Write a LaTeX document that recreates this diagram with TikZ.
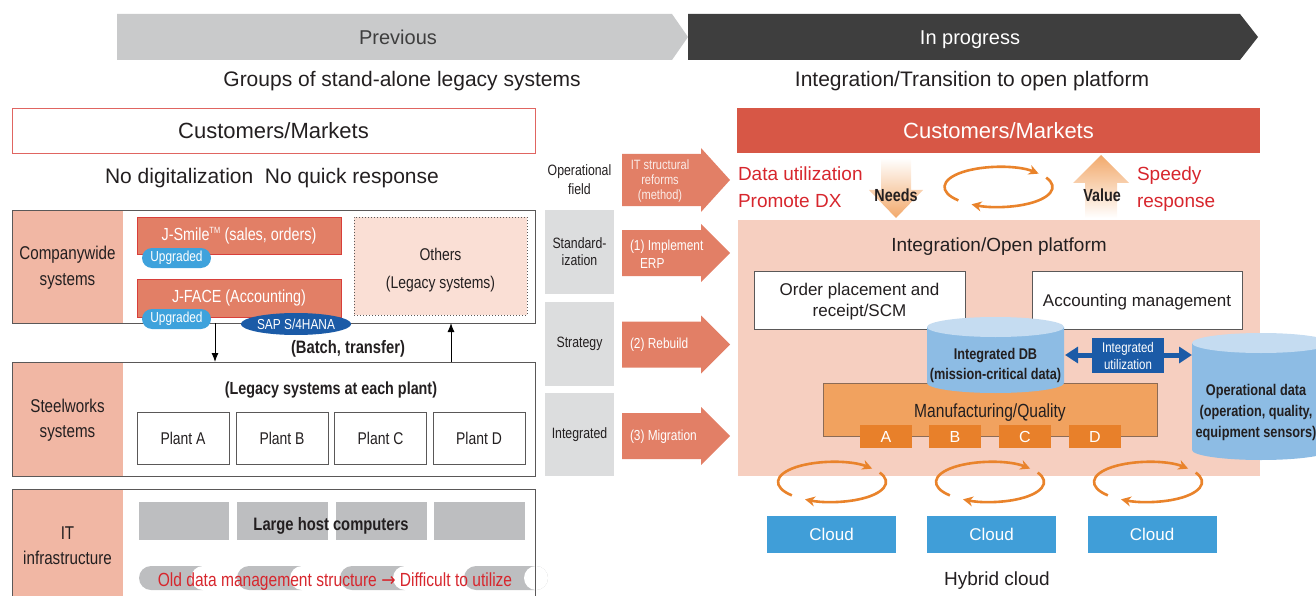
\documentclass[tikz,border=0pt]{standalone}
\usepackage{fontspec}
\setmainfont{Liberation Sans}
\newfontfamily\cnd{Liberation Sans}[FakeStretch=0.82]
\newfontfamily\symf{DejaVu Sans}[FakeStretch=0.9]
\usetikzlibrary{arrows.meta,shapes.geometric}

\definecolor{txtdark}{HTML}{231F20}
\definecolor{prevgray}{HTML}{C9CACB}
\definecolor{progdark}{HTML}{3E3E3E}
\definecolor{salmoncell}{HTML}{F1B7A4}
\definecolor{sysfill}{HTML}{E27F66}
\definecolor{sysline}{HTML}{D83F3A}
\definecolor{pillblue}{HTML}{3EA2DC}
\definecolor{sapblue}{HTML}{1B5BA7}
\definecolor{othfill}{HTML}{FADFD5}
\definecolor{midgray}{HTML}{DCDDDE}
\definecolor{hostgray}{HTML}{BDBEC0}
\definecolor{alertred}{HTML}{D7262D}
\definecolor{marketred}{HTML}{D75746}
\definecolor{platfill}{HTML}{F6CFC0}
\definecolor{mfgfill}{HTML}{F1A25F}
\definecolor{mfgline}{HTML}{8C6B55}
\definecolor{plantcode}{HTML}{E8802A}
\definecolor{dbbody}{HTML}{8DBCE4}
\definecolor{dbtop}{HTML}{C5DCF1}
\definecolor{cloudblue}{HTML}{409ED8}
\definecolor{cycorange}{HTML}{E9832B}
\definecolor{boxline}{HTML}{5A5858}
\definecolor{arrowshade}{HTML}{F2A96B}

\tikzset{
  bx/.style={inner sep=0pt, outer sep=0pt, text=txtdark},
  rowcell/.style={bx, fill=salmoncell, minimum width=111pt, align=center, font=\cnd\fontsize{18.5}{26}\selectfont},
  rowbox/.style={bx, draw=boxline, line width=1pt, minimum width=523pt},
  sysbox/.style={bx, fill=sysfill, draw=sysline, line width=0.7pt, minimum width=204pt, text=white, font=\cnd\fontsize{17.5}{21}\selectfont},
  pill/.style={bx, rounded corners=10pt, fill=pillblue, minimum width=69pt, minimum height=20pt, text=white, font=\cnd\fontsize{14.5}{17}\selectfont},
  plantbox/.style={bx, draw=boxline, line width=1pt, minimum width=92pt, minimum height=52pt, font=\cnd\fontsize{17}{20}\selectfont},
  hostbox/.style={bx, fill=hostgray, minimum height=38pt},
  fieldbox/.style={bx, fill=midgray, minimum width=69pt, align=center, font=\cnd\fontsize{15}{17}\selectfont},
  steptext/.style={bx, text=white, align=left, font=\cnd\fontsize{14.5}{18}\selectfont},
  appbox/.style={bx, draw=boxline, fill=white, line width=0.9pt, minimum height=58pt, align=center, font=\fontsize{17}{21}\selectfont},
  codebox/.style={bx, fill=plantcode, minimum width=52pt, minimum height=23pt, text=white, font=\fontsize{16}{19}\selectfont},
  cloudbox/.style={bx, fill=cloudblue, minimum width=129pt, minimum height=37pt, text=white, font=\fontsize{17}{20}\selectfont},
  cyc/.style={draw=cycorange, line width=2.6pt, -{Stealth[length=10pt,width=10pt]}},
  dbtext/.style={bx, align=center, font=\cnd\bfseries\fontsize{15.5}{20}\selectfont},
}

\begin{document}
\begin{tikzpicture}[x=1pt, y=-1pt]
  \useasboundingbox (0,0) rectangle (1316,596);

  % banner
  \fill[prevgray] (117,14) -- (672,14) -- (688,37) -- (672,60) -- (117,60) -- cycle;
  \fill[progdark] (688,14) -- (1240,14) -- (1258,37) -- (1240,60) -- (688,60) -- cycle;
  \node[bx, anchor=base, font=\fontsize{20}{24}\selectfont, text=progdark] (prevlbl) at (398,45) {Previous};
  \node[bx, anchor=base, font=\fontsize{20}{24}\selectfont, text=white] (proglbl) at (970,45) {In progress};
  \node[bx, anchor=base, font=\fontsize{21}{25}\selectfont] (prevsub) at (402,87) {Groups of stand-alone legacy systems};
  \node[bx, anchor=base, font=\fontsize{21}{25}\selectfont] (progsub) at (972,87) {Integration/Transition to open platform};

  % previous side
  \node[bx, draw=sysline!80, line width=0.8pt, minimum width=523pt, minimum height=45pt,
        font=\fontsize{22}{26}\selectfont] (mktL) at (273.5,130.5) {Customers/Markets};
  \node[bx, anchor=base, font=\fontsize{21}{25}\selectfont] (nodigi) at (272,184) {No digitalization\ \ No quick response};

  \node[rowcell, minimum height=113pt] (cwcell) at (67.5,266.5) {\rule{0pt}{15pt}Companywide\\systems};
  \node[rowbox, minimum height=113pt] (cwbox) at (273.5,266.5) {};
  \node[sysbox, minimum height=37pt] (jsmile) at (239,235.5) {J-Smile\textsuperscript{\fontsize{9}{9}\selectfont TM} (sales, orders)};
  \node[pill] (upg1) at (176.5,258) {Upgraded};
  \node[sysbox, minimum height=38pt] (jface) at (239,298) {J-FACE (Accounting)};
  \node[pill] (upg2) at (176.5,319) {Upgraded};
  \node[bx, ellipse, fill=sapblue, minimum width=102pt, minimum height=22pt, text=white,
        font=\cnd\fontsize{14.5}{17}\selectfont] (sap) at (296,324) {SAP S/4HANA};
  \node[bx, draw=boxline, dotted, line width=1pt, fill=othfill, minimum width=173pt, minimum height=98pt] (others) at (440.5,266) {};
  \node[bx, align=center, font=\cnd\fontsize{17}{28}\selectfont] (othtxt) at (440.5,270) {Others\\(Legacy systems)};

  \node[rowcell, minimum height=114pt, font=\cnd\fontsize{18.5}{25}\selectfont] (swcell) at (67.5,419) {\rule{0pt}{15pt}Steelworks\\systems};
  \node[rowbox, minimum height=114pt] (swbox) at (273.5,419) {};
  \node[bx, anchor=base, font=\cnd\bfseries\fontsize{17.5}{21}\selectfont] (legacy) at (331,394) {(Legacy systems at each plant)};
  \node[plantbox] (plantA) at (183,438) {Plant A};
  \node[plantbox] (plantB) at (282,438) {Plant B};
  \node[plantbox] (plantC) at (380.5,438) {Plant C};
  \node[plantbox] (plantD) at (479,438) {Plant D};

  \coordinate (dnx) at (215,0);
  \coordinate (upx) at (451,0);
  \draw[line width=1pt, -{Latex[length=9pt,width=7pt]}] (cwbox.south -| dnx) -- (swbox.north -| dnx);
  \draw[line width=1pt, -{Latex[length=9pt,width=7pt]}] (swbox.north -| upx) -- (cwbox.south -| upx);
  \node[bx, anchor=base, font=\cnd\bfseries\fontsize{18}{21}\selectfont] (batch) at (348,353) {(Batch, transfer)};

  \node[rowcell, minimum height=111pt, font=\cnd\fontsize{18.5}{25}\selectfont] (itcell) at (67.5,544.5) {\rule{0pt}{15pt}IT\\infrastructure};
  \node[hostbox, minimum width=90pt] (hostA) at (184,521) {};
  \node[hostbox, minimum width=91pt] (hostB) at (282.5,521) {};
  \node[hostbox, minimum width=91pt] (hostC) at (381.5,521) {};
  \node[hostbox, minimum width=91pt] (hostD) at (479.5,521) {};
  \node[bx, anchor=base, font=\cnd\bfseries\fontsize{18}{21}\selectfont] (hosttxt) at (331,530) {Large host computers};
  \foreach \g/\w/\e in {139/191/249, 237/290/352, 340/393/476, 464/524/548} {
    \fill[hostgray, rounded corners=12pt] (\g,566) rectangle ({\w+24},590);
    \fill[white, rounded corners=12pt] (\w,566) rectangle (\e,590);
  }
  \node[rowbox, minimum height=111pt] (itbox) at (273.5,544.5) {};
  \node[bx, anchor=base, text=alertred, font=\cnd\fontsize{19}{22}\selectfont] (oldtxt) at (335,586)
       {Old data management structure {\symf →} Difficult to utilize};

  % middle column
  \node[bx, align=center, font=\cnd\fontsize{15}{19}\selectfont] (opfield) at (579.5,180) {Operational\\field};
  \node[fieldbox, minimum height=84pt] (stdz) at (579.5,252) {Standard-\\ization};
  \node[fieldbox, minimum height=84pt] (strat) at (579.5,344) {Strategy};
  \node[fieldbox, minimum height=83pt] (integ) at (579.5,434.5) {Integrated};
  \fill[sysfill] (622,154) -- (701,154) -- (701,148) -- (730,180) -- (701,212) -- (701,206) -- (622,206) -- cycle;
  \foreach \cy in {253,344.5,436} {
    \fill[sysfill] (622,{\cy-23}) -- (701,{\cy-23}) -- (701,{\cy-29}) -- (730,\cy)
      -- (701,{\cy+29}) -- (701,{\cy+23}) -- (622,{\cy+23}) -- cycle;
  }
  \node[steptext, align=center, text=white!85!sysfill, font=\cnd\fontsize{13.5}{15}\selectfont] (m0) at (660,181) {IT structural\\reforms\\(method)};
  \node[steptext, anchor=west] (m1) at (630,254) {(1) Implement\\\hspace*{10pt}ERP};
  \node[steptext, anchor=west] (m2) at (630,345) {(2) Rebuild};
  \node[steptext, anchor=west] (m3) at (630,437) {(3) Migration};

  % in progress side
  \node[bx, fill=marketred, minimum width=523pt, minimum height=45pt, text=white,
        font=\fontsize{22}{26}\selectfont] (mktR) at (998.5,130.5) {Customers/Markets};
  \node[bx, anchor=west, align=left, text=alertred, font=\fontsize{19}{27}\selectfont] (dxtxt) at (738,187) {Data utilization\\Promote DX};
  \node[bx, anchor=west, align=left, text=alertred, font=\fontsize{19}{27}\selectfont] (speedy) at (1137,189) {Speedy\\response};
  \shade[top color=white, bottom color=arrowshade] (881,158) -- (911,158) -- (911,190) -- (923,190)
    -- (896,218) -- (869,190) -- (881,190) -- cycle;
  \shade[top color=arrowshade, bottom color=white] (1085,218) -- (1117,218) -- (1117,183) -- (1129,183)
    -- (1101,155) -- (1073,183) -- (1085,183) -- cycle;
  \node[bx, font=\cnd\bfseries\fontsize{17.5}{21}\selectfont] (needs) at (896,195) {Needs};
  \node[bx, font=\cnd\bfseries\fontsize{17.5}{21}\selectfont] (value) at (1102,195) {Value};

  \node[bx, fill=platfill, minimum width=522pt, minimum height=256pt] (platbox) at (999,348) {};
  \node[bx, anchor=base, font=\fontsize{19}{23}\selectfont] (plattitle) at (999,251) {Integration/Open platform};
  \node[appbox, minimum width=211pt] (order) at (859.5,300) {};
  \node[bx, align=center, font=\fontsize{17}{21}\selectfont] (ordtxt) at (859.5,302) {Order placement and\\receipt/SCM};
  \node[appbox, minimum width=210pt] (acct) at (1137,300) {};
  \node[bx, anchor=base, font=\fontsize{17}{21}\selectfont] (acctxt) at (1137,306) {Accounting management};
  \node[bx, fill=mfgfill, draw=mfgline, line width=0.8pt, minimum width=334pt, minimum height=53pt] (mfg) at (990,409.5) {};
  \node[bx, anchor=base, font=\cnd\fontsize{19}{22}\selectfont] (mfgtxt) at (990,417) {Manufacturing/Quality};
  \node[codebox] (codeA) at (886,436.5) {A};
  \node[codebox] (codeB) at (955,436.5) {B};
  \node[codebox] (codeC) at (1025,436.5) {C};
  \node[codebox] (codeD) at (1095,436.5) {D};

  % databases
  \fill[dbbody] (927,327) -- (927,383) arc[start angle=180, end angle=360, x radius=68.5pt, y radius=10pt] -- (1064,327) -- cycle;
  \fill[dbtop] (995.5,327) ellipse[x radius=68.5pt, y radius=10pt];
  \node[dbtext] (dbtxt) at (995.5,365) {Integrated DB\\(mission-critical data)};
  \fill[dbbody] (1192,343) -- (1192,450) arc[start angle=180, end angle=360, x radius=69pt, y radius=10pt] -- (1330,343) -- cycle;
  \fill[dbtop] (1261,343) ellipse[x radius=69pt, y radius=10pt];
  \node[dbtext, font=\cnd\bfseries\fontsize{15.5}{21}\selectfont] (optxt) at (1256,412) {Operational data\\(operation, quality,\\equipment sensors)};
  \coordinate (dbE) at (1065,355);
  \coordinate (opW) at (1192,355);
  \draw[draw=sapblue, line width=5pt, {Triangle[length=13pt,width=16pt]}-{Triangle[length=13pt,width=16pt]}] (dbE) -- (opW);
  \node[bx, fill=sapblue, minimum width=72pt, minimum height=35pt, text=white, align=center,
        font=\cnd\fontsize{14}{17}\selectfont] (util) at (1128,355.5) {Integrated\\utilization};

  % cycles
  \foreach \cx/\cy in {998.5/187, 832/482, 990/482, 1148/482} {
    \draw[cyc] ([shift={(222:54pt and 20pt)}]\cx,\cy) arc[start angle=222, end angle=42, x radius=54pt, y radius=20pt];
    \draw[cyc] ([shift={(28:54pt and 20pt)}]\cx,\cy) arc[start angle=28, end angle=-120, x radius=54pt, y radius=20pt];
  }

  \node[cloudbox] (cloud1) at (831.5,534.5) {Cloud};
  \node[cloudbox] (cloud2) at (991.5,534.5) {Cloud};
  \node[cloudbox] (cloud3) at (1152,534.5) {Cloud};
  \node[bx, anchor=base, font=\fontsize{19}{23}\selectfont] (hybrid) at (997,585) {Hybrid cloud};
\end{tikzpicture}
\end{document}
